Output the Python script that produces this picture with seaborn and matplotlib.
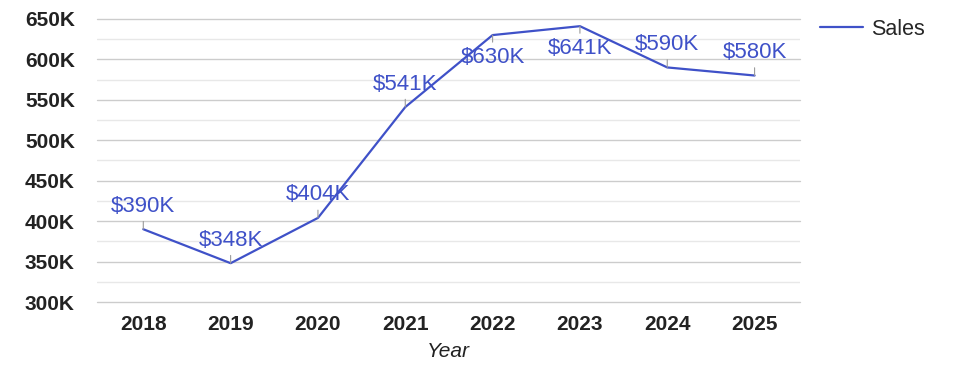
import seaborn as sns
import matplotlib.pyplot as plt
import pandas as pd
from matplotlib.ticker import MultipleLocator, FuncFormatter

years = [2018, 2019, 2020, 2021, 2022, 2023, 2024, 2025]
sales = [390, 348, 404, 541, 630, 641, 590, 580]  # thousands
labels = ['$390K', '$348K', '$404K', '$541K', '$630K', '$641K', '$590K', '$580K']
label_side = [1, 1, 1, 1, -1, -1, 1, 1]  # 1 = above point, -1 = below

df = pd.DataFrame({'Year': years, 'Sales': sales})

sns.set_style('white')
plt.rcParams['font.family'] = ['Liberation Sans', 'DejaVu Sans']

fig = plt.figure(figsize=(9.75, 3.78), dpi=100)
ax = fig.add_axes([0.0995, 0.201, 0.721, 0.749])

line_color = '#3f51c8'
sns.lineplot(data=df, x='Year', y='Sales', color=line_color, linewidth=1.6,
             label='Sales', ax=ax, legend=False)

# data labels with little leader lines
for x, y, t, s in zip(years, sales, labels, label_side):
    ax.annotate(t, xy=(x, y), xytext=(0, 16.5 if s > 0 else -16),
                textcoords='offset points', ha='center', va='center',
                fontsize=16, color=line_color,
                arrowprops=dict(arrowstyle='-', color='#9a9a9a', lw=0.8,
                                shrinkA=1, shrinkB=0))

ax.set_xlim(2018 - 0.53, 2025 + 0.52)
ax.set_ylim(300, 650)
ax.set_xticks(years)
ax.set_xticklabels([str(y) for y in years], fontsize=15, fontweight='bold', color='#222222')
ax.yaxis.set_major_locator(MultipleLocator(50))
ax.yaxis.set_minor_locator(MultipleLocator(25))
ax.yaxis.set_major_formatter(FuncFormatter(lambda v, p: f'{int(v)}K'))
for lab in ax.get_yticklabels():
    lab.set_fontsize(15)
    lab.set_fontweight('bold')
    lab.set_color('#222222')
ax.tick_params(axis='both', which='both', length=0)
ax.tick_params(axis='y', pad=16)
ax.tick_params(axis='x', pad=9)

ax.grid(axis='y', which='major', color='#cccccc', linewidth=1)
ax.grid(axis='y', which='minor', color='#e8e8e8', linewidth=1)
for gl in ax.yaxis.get_gridlines():
    gl.set_clip_on(False)
ax.set_axisbelow(True)
for sp in ax.spines.values():
    sp.set_visible(False)

ax.set_xlabel('Year', fontsize=15, fontstyle='italic', color='#222222', labelpad=6)
ax.set_ylabel('')

handles, labs = ax.get_legend_handles_labels()
fig.legend(handles, labs, loc='center left', bbox_to_anchor=(0.821, 0.923),
           frameon=False, fontsize=15.5, handlelength=2.0, handletextpad=0.4)

fig.savefig('out.png', dpi=100, facecolor='white')
